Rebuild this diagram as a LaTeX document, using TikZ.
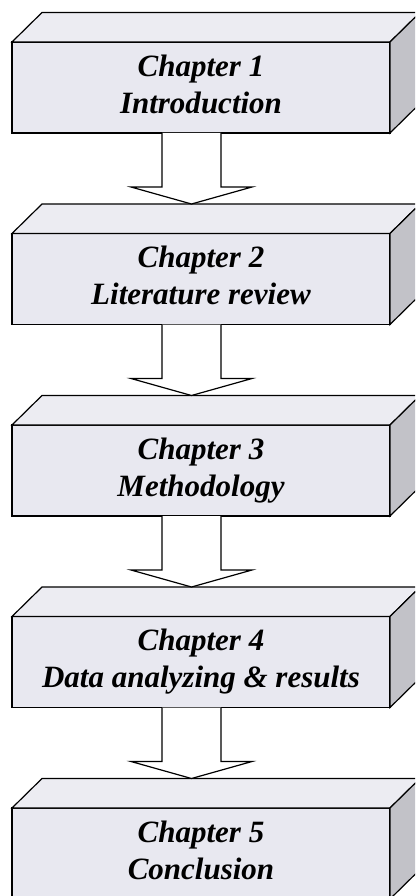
\documentclass[tikz,border=0pt]{standalone}
\usepackage{fontspec}
\setmainfont{Liberation Serif}
\usetikzlibrary{calc}

\definecolor{frontc}{RGB}{232,232,240}
\definecolor{topc}{RGB}{236,236,242}
\definecolor{sidec}{RGB}{194,194,200}

\tikzset{
  edge/.style={draw=black, line width=1.2pt, line join=miter},
  frontface/.style={edge, fill=frontc, minimum width=378pt, minimum height=91pt,
    inner sep=0pt, outer sep=0pt, align=center,
    font=\fontsize{31}{37}\selectfont\bfseries\itshape},
  topface/.style={edge, fill=topc},
  sideface/.style={edge, fill=sidec},
  blockarrow/.style={edge, fill=white}
}

% a chapter block: front face node plus top and side faces
\newcommand{\chapterblock}[3]{%
  \node[frontface, anchor=north west] (#1) at (12,#2) {#3};
  \draw[topface] (#1.north west) -- ++(30,-29.5)
    -- ($(#1.north east)+(30,-29.5)$) -- (#1.north east) -- cycle;
  \draw[sideface] (#1.north east) -- ++(30,-29.5)
    -- ($(#1.south east)+(30,-29.5)$) -- (#1.south east) -- cycle;
}

% hollow block arrow from the bottom of one block to the top of the next
\newcommand{\flowarrow}[2]{%
  \draw[blockarrow] ($(#1.south west)+(150,0)$) -- ($(#1.south west)+(150,54)$)
    -- ($(#1.south west)+(119,54)$) -- ($(#2.north west)+(179.5,-29.5)$)
    -- ($(#1.south west)+(240,54)$) -- ($(#1.south west)+(209,54)$)
    -- ($(#1.south west)+(209,0)$);
}

\begin{document}
\begin{tikzpicture}[x=1pt,y=-1pt]
  \useasboundingbox (0,0) rectangle (415,896);
  \fill[white] (0,0) rectangle (415,896);
  \clip (0,0) rectangle (415,896);

  \chapterblock{c1}{42}{Chapter 1\strut\\Introduction\strut}
  \chapterblock{c2}{233.5}{Chapter 2\strut\\Literature review\strut}
  \chapterblock{c3}{425}{Chapter 3\strut\\Methodology\strut}
  \chapterblock{c4}{616.5}{Chapter 4\strut\\Data analyzing \& results\strut}
  \chapterblock{c5}{808}{Chapter 5\strut\\Conclusion\strut}

  \flowarrow{c1}{c2}
  \flowarrow{c2}{c3}
  \flowarrow{c3}{c4}
  \flowarrow{c4}{c5}
\end{tikzpicture}
\end{document}
